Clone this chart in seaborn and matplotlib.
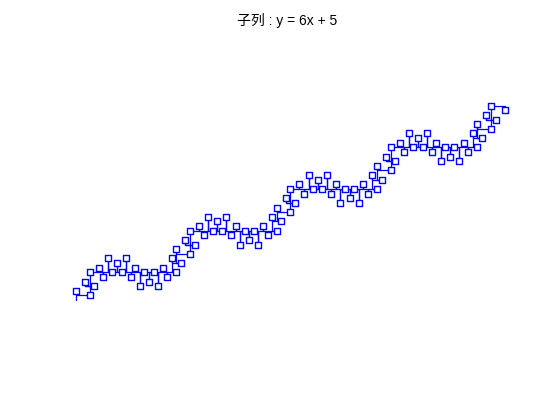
import matplotlib
matplotlib.use("Agg")
import matplotlib.pyplot as plt
import pandas as pd
import seaborn as sns

# --- Data (grid units) ---
TITLE = "子列 : y = 6x + 5"

# the walk drawn as one line; the pattern repeats four times plus a short tail
start_x = [0]
start_y = [-1]

part1_x = [0, 0, 3, 3, 2, 2, 2, 4, 3, 3, 5, 5, 5, 6, 6, 6, 7, 7, 7, 8,
           9, 9, 9, 10, 11, 11, 11, 12, 12, 12, 13, 13, 13, 14, 14, 14, 15, 16, 16, 16,
           17, 18, 18, 18, 19, 19, 19, 20, 20, 20, 22, 21, 21, 21, 23, 22]
part1_y = [1, 0, 0, 2, 2, 3, 2, 2, 2, 5, 5, 6, 5, 5, 4, 5, 5, 8, 5, 5,
           5, 7, 5, 5, 5, 8, 5, 5, 4, 5, 5, 6, 5, 5, 2, 5, 5, 5, 3, 5,
           5, 5, 2, 5, 5, 6, 5, 5, 4, 5, 5, 5, 8, 7, 7, 7]

part2_x = [22, 22, 25, 25, 24, 24, 24, 26, 25, 25, 27, 27, 27, 28, 28, 28, 29, 29, 29, 30,
           31, 31, 31, 32, 33, 33, 33, 34, 34, 34, 35, 35, 35, 36, 36, 36, 37, 38, 38, 38,
           39, 40, 40, 40, 41, 41, 41, 42, 42, 42, 44, 43, 43, 43, 45, 44]
part2_y = [10, 9, 9, 11, 11, 12, 11, 11, 11, 14, 14, 15, 14, 14, 13, 14, 14, 17, 14, 14,
           14, 16, 14, 14, 14, 17, 14, 14, 13, 14, 14, 15, 14, 14, 11, 14, 14, 14, 12, 14,
           14, 14, 11, 14, 14, 15, 14, 14, 13, 14, 14, 14, 17, 16, 16, 16]

part3_x = [44, 44, 47, 47, 46, 46, 46, 48, 47, 47, 49, 49, 49, 50, 50, 50, 51, 51, 51, 52,
           53, 53, 53, 54, 55, 55, 55, 56, 56, 56, 57, 57, 57, 58, 58, 58, 59, 60, 60, 60,
           61, 62, 62, 62, 63, 63, 63, 64, 64, 64, 66, 65, 65, 65, 67, 66]
part3_y = [19, 18, 18, 20, 20, 21, 20, 20, 20, 23, 23, 24, 23, 23, 22, 23, 23, 26, 23, 23,
           23, 25, 23, 23, 23, 26, 23, 23, 22, 23, 23, 24, 23, 23, 20, 23, 23, 23, 21, 23,
           23, 23, 20, 23, 23, 24, 23, 23, 22, 23, 23, 23, 26, 25, 25, 25]

part4_x = [66, 66, 69, 69, 68, 68, 68, 70, 69, 69, 71, 71, 71, 72, 72, 72, 73, 73, 73, 74,
           75, 75, 75, 76, 77, 77, 77, 78, 78, 78, 79, 79, 79, 80, 80, 80, 81, 82, 82, 82,
           83, 84, 84, 84, 85, 85, 85, 86, 86, 86, 88, 87, 87, 87, 89, 88]
part4_y = [28, 27, 27, 29, 29, 30, 29, 29, 29, 32, 32, 33, 32, 32, 31, 32, 32, 35, 32, 32,
           32, 34, 32, 32, 32, 35, 32, 32, 31, 32, 32, 33, 32, 32, 29, 32, 32, 32, 30, 32,
           32, 32, 29, 32, 32, 33, 32, 32, 31, 32, 32, 32, 35, 34, 34, 34]

tail_x = [88, 88, 91, 91, 90, 90, 90, 92, 91, 91, 94, 94]
tail_y = [37, 36, 36, 38, 38, 39, 38, 38, 38, 41, 41, 40]

# square markers (the subsequence points)
mark1_x = [0, 3, 2, 4, 3, 5, 6, 7, 8, 9, 10, 11, 12, 13, 14, 15, 16, 17, 18, 19, 20, 22, 21, 23]
mark1_y = [1, 0, 3, 2, 5, 6, 4, 8, 5, 7, 5, 8, 4, 6, 2, 5, 3, 5, 2, 6, 4, 5, 8, 7]
mark2_x = [22, 25, 24, 26, 25, 27, 28, 29, 30, 31, 32, 33, 34, 35, 36, 37, 38, 39, 40, 41, 42, 44, 43, 45]
mark2_y = [10, 9, 12, 11, 14, 15, 13, 17, 14, 16, 14, 17, 13, 15, 11, 14, 12, 14, 11, 15, 13, 14, 17, 16]
mark3_x = [44, 47, 46, 48, 47, 49, 50, 51, 52, 53, 54, 55, 56, 57, 58, 59, 60, 61, 62, 63, 64, 66, 65, 67]
mark3_y = [19, 18, 21, 20, 23, 24, 22, 26, 23, 25, 23, 26, 22, 24, 20, 23, 21, 23, 20, 24, 22, 23, 26, 25]
mark4_x = [66, 69, 68, 70, 69, 71, 72, 73, 74, 75, 76, 77, 78, 79, 80, 81, 82, 83, 84, 85, 86, 88, 87, 89]
mark4_y = [28, 27, 30, 29, 32, 33, 31, 35, 32, 34, 32, 35, 31, 33, 29, 32, 30, 32, 29, 33, 31, 32, 35, 34]
mark_tail_x = [88, 91, 90, 92, 91, 94]
mark_tail_y = [37, 36, 39, 38, 41, 40]

path = pd.DataFrame({
    "x": start_x + part1_x + part2_x + part3_x + part4_x + tail_x,
    "y": start_y + part1_y + part2_y + part3_y + part4_y + tail_y,
})
marks = pd.DataFrame({
    "x": mark1_x + mark2_x + mark3_x + mark4_x + mark_tail_x,
    "y": mark1_y + mark2_y + mark3_y + mark4_y + mark_tail_y,
})

# --- Plot ---
sns.set_style("white")
fig = plt.figure(figsize=(5.6, 4.2), dpi=100)
ax = fig.add_axes([0, 0, 1, 1])

sns.lineplot(data=path, x="x", y="y", sort=False, estimator=None,
             color="blue", linewidth=0.9, ax=ax)
sns.scatterplot(data=marks, x="x", y="y", marker="s", s=20,
                facecolor="white", edgecolor="blue", linewidth=1.0, ax=ax, zorder=3)

ax.set_xlim(-16.67, 106.14)
ax.set_ylim(-26.89, 63.82)
ax.axis("off")

fig.text(0.513, 0.94, TITLE, ha="center", va="baseline", fontsize=10,
         family=["Liberation Sans", "Noto Sans CJK SC"], color="black")

fig.savefig("out.png", dpi=100)
